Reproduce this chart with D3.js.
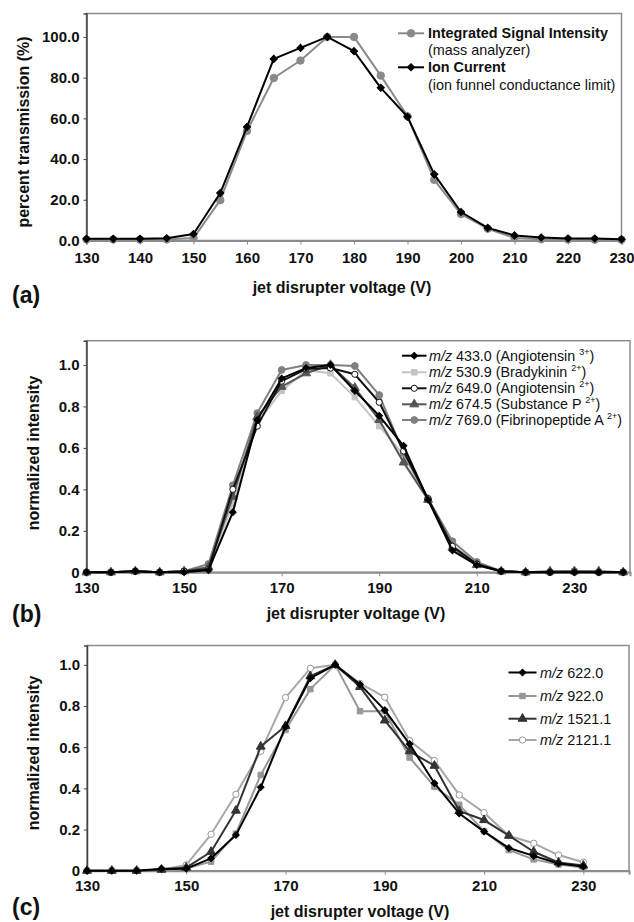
<!DOCTYPE html>
<html>
<head>
<meta charset="utf-8">
<script src="https://cdn.jsdelivr.net/npm/d3@7"></script>
<style>
  body { margin: 0; background: #fff; }
  svg text { font-family: "Liberation Sans", Arial, Helvetica, sans-serif; }
</style>
</head>
<body>
<div id="chart"></div>
<script>
// ---- panel (a): percent transmission ----
const voltsA = [130, 135, 140, 145, 150, 155, 160, 165, 170, 175, 180, 185, 190, 195, 200, 205, 210, 215, 220, 225, 230];
const integratedSignal = [0.5, 0.5, 0.5, 0.5, 1.2, 19.8, 53.8, 79.8, 88.4, 100, 100, 81, 61, 29.8, 13, 5.8, 1.2, 0.6, 0.5, 0.4, 0.4];
const ionCurrent = [0.8, 0.8, 0.8, 1.1, 3.2, 23.3, 55.8, 89.2, 94.6, 100, 93, 75, 60.8, 32.5, 14, 6.2, 2.5, 1.5, 1.0, 1.0, 0.6];
const xTicksA = [130, 140, 150, 160, 170, 180, 190, 200, 210, 220, 230];
const yTicksA = [0, 20, 40, 60, 80, 100];

// ---- panel (b): peptide ions, normalized ----
const voltsB = [130, 135, 140, 145, 150, 155, 160, 165, 170, 175, 180, 185, 190, 195, 200, 205, 210, 215, 220, 225, 230, 235, 240];
const mz433 = [0, 0, 0.005, 0, 0, 0.01, 0.29, 0.735, 0.935, 0.985, 1.0, 0.875, 0.755, 0.61, 0.35, 0.105, 0.035, 0.005, 0, 0, 0, 0, 0];
const mz530 = [0, 0, 0.005, 0, 0.005, 0.025, 0.33, 0.72, 0.875, 0.975, 0.96, 0.845, 0.705, 0.565, 0.35, 0.13, 0.045, 0.005, 0, 0, 0.005, 0, 0];
const mz649 = [0, 0, 0.005, 0, 0.005, 0.015, 0.40, 0.705, 0.922, 0.98, 0.985, 0.955, 0.82, 0.585, 0.355, 0.125, 0.04, 0.005, 0, 0, 0, 0, 0];
const mz674 = [0, 0, 0.005, 0, 0.005, 0.025, 0.365, 0.75, 0.895, 0.96, 1.0, 0.89, 0.735, 0.53, 0.35, 0.12, 0.035, 0.005, 0, 0.005, 0.005, 0.005, 0];
const mz769 = [0, 0, 0.005, 0, 0.005, 0.04, 0.42, 0.768, 0.976, 1.0, 1.0, 0.995, 0.855, 0.575, 0.355, 0.15, 0.05, 0.005, 0, 0, 0.005, 0, 0];
const xTicksB = [130, 150, 170, 190, 210, 230];
const yTicksB = [0, 0.2, 0.4, 0.6, 0.8, 1.0];

// ---- panel (c): higher m/z ions, normalized ----
const voltsC = [130, 135, 140, 145, 150, 155, 160, 165, 170, 175, 180, 185, 190, 195, 200, 205, 210, 215, 220, 225, 230];
const mz622 = [0, 0, 0, 0.01, 0.01, 0.06, 0.173, 0.405, 0.70, 0.935, 1.0, 0.905, 0.78, 0.615, 0.425, 0.278, 0.19, 0.11, 0.072, 0.035, 0.02];
const mz922 = [0, 0, 0, 0.005, 0.01, 0.044, 0.18, 0.465, 0.684, 0.882, 1.0, 0.775, 0.775, 0.55, 0.408, 0.32, 0.192, 0.10, 0.055, 0.03, 0.015];
const mz1521 = [0, 0, 0, 0.005, 0.015, 0.092, 0.292, 0.603, 0.703, 0.945, 1.0, 0.893, 0.73, 0.58, 0.51, 0.29, 0.246, 0.17, 0.092, 0.04, 0.025];
const mz2121 = [0, 0, 0, 0.005, 0.028, 0.177, 0.371, 0.58, 0.841, 0.983, 1.0, 0.91, 0.843, 0.632, 0.535, 0.368, 0.282, 0.17, 0.133, 0.076, 0.041];
const xTicksC = [130, 150, 170, 190, 210, 230];
const yTicksC = [0, 0.2, 0.4, 0.6, 0.8, 1.0];

const width = 634, height = 922;
const boxColor = "#8c8c8c";

const svg = d3.select("#chart")
    .append("svg")
    .attr("width", width)
    .attr("height", height);

// marker shapes, Excel style
function marker(sel, s) {
    const shapes = {
        circle: d3.symbol(d3.symbolCircle, s.size || 46),
        diamond: d3.symbol(d3.symbolSquare, s.size || 34),
        square: d3.symbol(d3.symbolSquare, s.size || 34),
        triangle: d3.symbol(d3.symbolTriangle, s.size || 40)
    };
    sel.attr("d", shapes[s.shape]())
        .attr("fill", s.fill)
        .attr("stroke", s.markerStroke || s.color)
        .attr("stroke-width", s.markerStrokeWidth || 1);
}

function drawPanel(p) {
    const x = d3.scaleLinear().domain(p.xDomain).range([p.left, p.right]);
    const y = d3.scaleLinear().domain(p.yDomain).range([p.bottom, p.top]);
    const g = svg.append("g");

    // plot area frame
    g.append("rect")
        .attr("x", p.left).attr("y", p.top)
        .attr("width", p.right - p.left).attr("height", p.bottom - p.top)
        .attr("fill", "none").attr("stroke", boxColor).attr("stroke-width", 1.5);

    // x axis
    const xa = g.append("g")
        .attr("transform", `translate(0,${p.bottom})`)
        .call(d3.axisBottom(x).tickValues(p.xTicks).tickSize(4).tickPadding(p.xPad).tickFormat(d3.format("d")));
    xa.select(".domain").attr("stroke", boxColor).attr("stroke-width", 2);
    xa.selectAll(".tick line").attr("stroke", boxColor);
    xa.selectAll("text").attr("font-size", 15).attr("font-weight", "bold").attr("fill", "#111")
        .style("font-family", "'Liberation Sans', Arial, sans-serif");

    // y axis
    const ya = g.append("g")
        .attr("transform", `translate(${p.left},0)`)
        .call(d3.axisLeft(y).tickValues(p.yTicks).tickSize(3).tickPadding(4).tickFormat(p.yFormat));
    ya.select(".domain").attr("stroke", "#444").attr("stroke-width", 1.5);
    ya.selectAll(".tick line").attr("stroke", "#444");
    ya.selectAll("text").attr("font-size", 15).attr("font-weight", "bold").attr("fill", "#111")
        .style("font-family", "'Liberation Sans', Arial, sans-serif");

    // series
    const line = d3.line().x(d => x(d[0])).y(d => y(d[1]));
    p.series.forEach(s => {
        const pts = p.volts.map((v, i) => [v, s.values[i]]);
        g.append("path")
            .attr("d", line(pts))
            .attr("fill", "none")
            .attr("stroke", s.color)
            .attr("stroke-width", 2)
            .attr("stroke-linejoin", "round");
        g.selectAll(null)
            .data(pts)
            .enter().append("path")
            .attr("transform", d => `translate(${x(d[0])},${y(d[1])})` + (s.shape === "diamond" ? " rotate(45)" : ""))
            .call(marker, s);
    });

    // axis titles
    g.append("text")
        .attr("x", p.xTitleX).attr("y", p.xTitleY)
        .attr("text-anchor", "middle")
        .attr("font-size", 16).attr("font-weight", "bold").attr("fill", "#111")
        .text("jet disrupter voltage (V)");
    g.append("text")
        .attr("transform", `translate(${p.yTitleX},${p.yTitleY}) rotate(-90)`)
        .attr("text-anchor", "middle")
        .attr("font-size", 16).attr("font-weight", "bold").attr("fill", "#111")
        .text(p.yTitle);

    // panel letter
    g.append("text")
        .attr("x", 12).attr("y", p.letterY)
        .attr("font-size", 23).attr("font-weight", "bold").attr("fill", "#111")
        .text(p.letter);

    // legend
    const lg = p.legend;
    p.legendRows.forEach((row, i) => {
        const ry = lg.rows[i];
        if (row.series) {
            const s = row.series;
            g.append("line")
                .attr("x1", lg.x1).attr("x2", lg.x2).attr("y1", ry).attr("y2", ry)
                .attr("stroke", s.color).attr("stroke-width", 2);
            g.append("path")
                .attr("transform", `translate(${(lg.x1 + lg.x2) / 2},${ry})` + (s.shape === "diamond" ? " rotate(45)" : ""))
                .call(marker, s);
        }
        const t = g.append("text")
            .attr("x", lg.tx).attr("y", ry + 5)
            .attr("font-size", lg.fontSize).attr("fill", "#111");
        row.parts.forEach(part => {
            const ts = t.append("tspan").text(part.text);
            if (part.bold) ts.attr("font-weight", "bold");
            if (part.italic) ts.attr("font-style", "italic");
            if (part.sup) ts.attr("font-size", 9).attr("dy", -6);
            if (part.unsup) ts.attr("dy", 6);
        });
    });
}

// ---- panel (a) ----
const sIntegrated = { values: integratedSignal, color: "#8a8a8a", fill: "#8a8a8a", shape: "circle", size: 44 };
const sIon = { values: ionCurrent, color: "#000", fill: "#000", shape: "diamond", size: 26 };
drawPanel({
    letter: "(a)", letterY: 303,
    volts: voltsA, xDomain: [130, 230], yDomain: [0, 111.5],
    left: 86.5, right: 621.5, top: 13.5, bottom: 240.5,
    xTicks: xTicksA, yTicks: yTicksA, xPad: 8, yFormat: d3.format(".1f"),
    xTitleX: 342, xTitleY: 293,
    yTitle: "percent transmission (%)", yTitleX: 29, yTitleY: 132,
    series: [sIntegrated, sIon],
    legend: { x1: 398, x2: 424, tx: 428, fontSize: 14.4, rows: [33.3, 50, 67.3, 85] },
    legendRows: [
        { series: sIntegrated, parts: [{ text: "Integrated Signal Intensity", bold: true }] },
        { parts: [{ text: "(mass analyzer)" }] },
        { series: sIon, parts: [{ text: "Ion Current", bold: true }] },
        { parts: [{ text: "(ion funnel conductance limit)" }] }
    ]
});

// ---- panel (b) ----
const b433 = { values: mz433, color: "#000", fill: "#000", shape: "diamond", size: 22 };
const b530 = { values: mz530, color: "#c4c4c4", fill: "#c4c4c4", shape: "square", size: 30 };
const b649 = { values: mz649, color: "#111", fill: "#fff", shape: "circle", size: 30, markerStroke: "#111" };
const b674 = { values: mz674, color: "#555", fill: "#555", shape: "triangle", size: 34 };
const b769 = { values: mz769, color: "#808080", fill: "#808080", shape: "circle", size: 36 };
const mzParts = (mz, name, charge) => [
    { text: "m/z", italic: true }, { text: ` ${mz} (${name} ` },
    { text: charge, sup: true }, { text: ")", unsup: true }
];
drawPanel({
    letter: "(b)", letterY: 622,
    volts: voltsB, xDomain: [130, 241.4], yDomain: [0, 1.117],
    left: 86.5, right: 630, top: 340.7, bottom: 572.3,
    xTicks: xTicksB, yTicks: yTicksB, xPad: 6, yFormat: d => d === 0 ? "0" : d3.format(".1f")(d),
    xTitleX: 356, xTitleY: 619,
    yTitle: "normalized intensity", yTitleX: 39, yTitleY: 453,
    series: [b530, b769, b674, b649, b433],
    legend: { x1: 402, x2: 426.5, tx: 429, fontSize: 14.3, rows: [355.7, 372.3, 388.3, 404.3, 420] },
    legendRows: [
        { series: b433, parts: mzParts("433.0", "Angiotensin", "3+") },
        { series: b530, parts: mzParts("530.9", "Bradykinin", "2+") },
        { series: b649, parts: mzParts("649.0", "Angiotensin", "2+") },
        { series: b674, parts: mzParts("674.5", "Substance P", "2+") },
        { series: b769, parts: mzParts("769.0", "Fibrinopeptide A", "2+") }
    ]
});

// ---- panel (c) ----
const c622 = { values: mz622, color: "#000", fill: "#000", shape: "diamond", size: 22 };
const c922 = { values: mz922, color: "#979797", fill: "#979797", shape: "square", size: 30 };
const c1521 = { values: mz1521, color: "#333", fill: "#333", shape: "triangle", size: 34 };
const c2121 = { values: mz2121, color: "#a8a8a8", fill: "#fff", shape: "circle", size: 32, markerStroke: "#999" };
drawPanel({
    letter: "(c)", letterY: 915,
    volts: voltsC, xDomain: [130, 239.2], yDomain: [0, 1.094],
    left: 87, right: 629, top: 645.5, bottom: 870.7,
    xTicks: xTicksC, yTicks: yTicksC, xPad: 6, yFormat: d => d === 0 ? "0" : d3.format(".1f")(d),
    xTitleX: 360, xTitleY: 917,
    yTitle: "normalized intensity", yTitleX: 39, yTitleY: 753,
    series: [c2121, c922, c1521, c622],
    legend: { x1: 508.5, x2: 536.5, tx: 540, fontSize: 14.4, rows: [672.5, 696, 718.7, 740] },
    legendRows: [
        { series: c622, parts: [{ text: "m/z", italic: true }, { text: " 622.0" }] },
        { series: c922, parts: [{ text: "m/z", italic: true }, { text: " 922.0" }] },
        { series: c1521, parts: [{ text: "m/z", italic: true }, { text: " 1521.1" }] },
        { series: c2121, parts: [{ text: "m/z", italic: true }, { text: " 2121.1" }] }
    ]
});
</script>
</body>
</html>
